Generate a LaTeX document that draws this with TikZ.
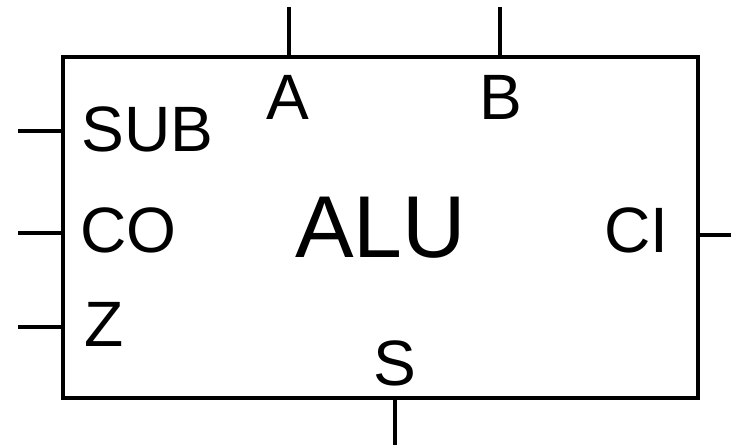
\documentclass[tikz,border=0pt]{standalone}
\usepackage{fontspec}
\setmainfont{Liberation Sans}
\usetikzlibrary{calc, positioning}

\begin{document}
\begin{tikzpicture}[x=0.02cm, y=-0.02cm,
    pin/.style={line width=2.3pt},
    lbl/.style={inner sep=0pt, font=\fontsize{36.5}{42}\selectfont}]
    \useasboundingbox (0,0) rectangle (731,445);

    % Khối ALU
    \node[draw, line width=2.3pt, minimum width=12.7cm, minimum height=6.82cm,
          inner sep=0pt, font=\fontsize{50}{58}\selectfont] (alu) at (380.5,227.5) {ALU};

    % Đầu ra tự do của các chân
    \coordinate (a-end) at (289,7);
    \coordinate (b-end) at (500,7);
    \coordinate (sub-end) at (18,131);
    \coordinate (co-end) at (18,233);
    \coordinate (z-end) at (18,327);
    \coordinate (ci-end) at (731,235);
    \coordinate (s-end) at (395,445);

    % Các chân
    \draw[pin] (a-end) -- (a-end |- alu.north);
    \draw[pin] (b-end) -- (b-end |- alu.north);
    \draw[pin] (sub-end) -- (sub-end -| alu.west);
    \draw[pin] (co-end) -- (co-end -| alu.west);
    \draw[pin] (z-end) -- (z-end -| alu.west);
    \draw[pin] (ci-end) -- (ci-end -| alu.east);
    \draw[pin] (s-end) -- (s-end |- alu.south);

    % Nhãn các chân
    \node[lbl, anchor=base] (a-lbl) at (288,120) {A};
    \node[lbl, anchor=base] (b-lbl) at (501,120) {B};
    \node[lbl, anchor=base west] (sub-lbl) at (81,152) {SUB};
    \node[lbl, anchor=base west] (co-lbl) at (80,253) {CO};
    \node[lbl, anchor=base west] (z-lbl) at (84,347) {Z};
    \node[lbl, anchor=base east] (ci-lbl) at (669,253) {CI};
    \node[lbl, anchor=base] (s-lbl) at (395,386) {S};
\end{tikzpicture}
\end{document}
